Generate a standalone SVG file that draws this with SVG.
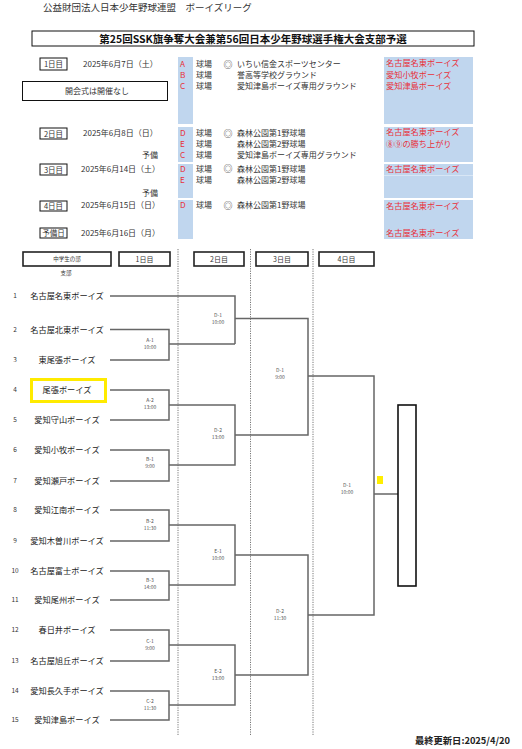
<svg xmlns="http://www.w3.org/2000/svg" width="522" height="749" viewBox="0 0 522 749">
<style>
text{font-family:"Noto Sans CJK JP","Noto Sans",sans-serif;fill:#333}
.t{font-size:8px}
.r{font-size:8.2px;fill:#e8303a}
.tm{font-size:8.2px;text-anchor:middle;fill:#222}
.n{font-size:6.5px;text-anchor:middle;fill:#333}
.lb{font-size:5px;text-anchor:middle;fill:#555}
.bx{fill:none;stroke:#111;stroke-width:1}
.hb{fill:none;stroke:#222;stroke-width:1.6}
.blue{fill:#c0d6ee}
.ln{fill:none;stroke:#666;stroke-width:1.5}
.dot{stroke:#777;stroke-width:1;stroke-dasharray:1.2 1.2}
.ht{font-size:7px;text-anchor:middle;fill:#333}
.mk{font-size:9px;fill:#333}
</style>
<rect width="522" height="749" fill="#fff"/>
<g id="header">
<text x="43" y="11" style="font-size:9.5px">公益財団法人日本少年野球連盟　ボーイズリーグ</text>
<rect x="32" y="31" width="442" height="15" class="bx"/>
<text x="253" y="43" style="font-size:10.5px;font-weight:bold;text-anchor:middle;fill:#111">第25回SSK旗争奪大会兼第56回日本少年野球選手権大会支部予選</text>
</g>
<g id="schedule">
<rect x="178" y="57" width="15" height="67" class="blue"/>
<rect x="178" y="127" width="15" height="35" class="blue"/>
<rect x="178" y="164" width="15" height="34" class="blue"/>
<rect x="178" y="200" width="15" height="39" class="blue"/>
<rect x="384" y="57" width="89" height="67" class="blue"/>
<rect x="384" y="127" width="89" height="35" class="blue"/>
<rect x="384" y="164" width="89" height="34" class="blue"/>
<line x1="384" y1="175.5" x2="473" y2="175.5" stroke="#d8e6f5" stroke-width="1"/>
<rect x="384" y="200" width="89" height="39" class="blue"/>
<g id="day1">
<rect x="40" y="58" width="27" height="12" class="bx"/>
<text x="53.5" y="67" class="ht" style="font-size:7.5px">1日目</text>
<text x="83" y="67" class="t">2025年6月7日（土）</text>
<text x="180" y="67" class="r">A</text><text x="196" y="67" class="t">球場</text><text x="223.5" y="67.5" class="mk">◎</text><text x="237" y="67" class="t">いちい信金スポーツセンター</text>
<text x="180" y="78" class="r">B</text><text x="196" y="78" class="t">球場</text><text x="237" y="78" class="t">誉高等学校グラウンド</text>
<text x="180" y="89" class="r">C</text><text x="196" y="89" class="t">球場</text><text x="237" y="89" class="t">愛知津島ボーイズ専用グラウンド</text>
<text x="386" y="66" class="r">名古屋名東ボーイズ</text>
<text x="386" y="78" class="r">愛知小牧ボーイズ</text>
<text x="386" y="89" class="r">愛知津島ボーイズ</text>
<rect x="22.5" y="81.5" width="145" height="19" class="bx" stroke="#444"/>
<text x="97" y="94" class="t" style="text-anchor:middle">開会式は開催なし</text>
</g>
<g id="day2">
<rect x="40" y="128" width="27" height="11" class="bx"/>
<text x="53.5" y="136.5" class="ht" style="font-size:7.5px">2日目</text>
<text x="83" y="136" class="t">2025年6月8日（日）</text>
<text x="180" y="136" class="r">D</text><text x="196" y="136" class="t">球場</text><text x="223.5" y="136.5" class="mk">◎</text><text x="237" y="136" class="t">森林公園第1野球場</text>
<text x="180" y="147" class="r">E</text><text x="196" y="147" class="t">球場</text><text x="237" y="147" class="t">森林公園第2野球場</text>
<text x="142" y="158" class="t">予備</text>
<text x="180" y="158" class="r">C</text><text x="196" y="158" class="t">球場</text><text x="237" y="158" class="t">愛知津島ボーイズ専用グラウンド</text>
<text x="386" y="135" class="r">名古屋名東ボーイズ</text>
<text x="386" y="147" class="r">⑧⑨の勝ち上がり</text>
</g>
<g id="day3">
<rect x="40" y="164" width="27" height="11" class="bx"/>
<text x="53.5" y="172.5" class="ht" style="font-size:7.5px">3日目</text>
<text x="81" y="172" class="t">2025年6月14日（土）</text>
<text x="180" y="171.5" class="r">D</text><text x="196" y="171.5" class="t">球場</text><text x="223.5" y="172" class="mk">◎</text><text x="237" y="171.5" class="t">森林公園第1野球場</text>
<text x="180" y="182.5" class="r">E</text><text x="196" y="182.5" class="t">球場</text><text x="237" y="182.5" class="t">森林公園第2野球場</text>
<text x="142" y="196" class="t">予備</text>
<text x="386" y="172" class="r">名古屋名東ボーイズ</text>
</g>
<g id="day4">
<rect x="40" y="201" width="27" height="10" class="bx"/>
<text x="53.5" y="208.5" class="ht" style="font-size:7.5px">4日目</text>
<text x="81" y="208" class="t">2025年6月15日（日）</text>
<text x="180" y="208" class="r">D</text><text x="196" y="208" class="t">球場</text><text x="223.5" y="208.5" class="mk">◎</text><text x="237" y="208" class="t">森林公園第1野球場</text>
<text x="386" y="209" class="r">名古屋名東ボーイズ</text>
</g>
<g id="reserve">
<rect x="40" y="228" width="27" height="10" class="bx"/>
<text x="53.5" y="235.5" class="ht" style="font-size:7.5px">予備日</text>
<text x="81" y="236" class="t">2025年6月16日（月）</text>
<text x="386" y="236" class="r">名古屋名東ボーイズ</text>
</g>
</g>
<g id="bracket-headers">
<rect x="23" y="252" width="88" height="14" class="hb"/>
<text x="67" y="261" style="font-size:5.5px;text-anchor:middle">中学生の部</text>
<text x="66" y="275" style="font-size:5.5px;text-anchor:middle">支部</text>
<rect x="119" y="252" width="51" height="14" class="hb"/>
<text x="144.5" y="261.5" class="ht">1日目</text>
<rect x="194" y="252" width="50" height="14" class="hb"/>
<text x="219" y="261.5" class="ht">2日目</text>
<rect x="256" y="252" width="52" height="14" class="hb"/>
<text x="282" y="261.5" class="ht">3日目</text>
<rect x="319" y="252" width="55" height="14" class="hb"/>
<text x="346.5" y="261.5" class="ht">4日目</text>
</g>
<g id="dividers">
<line x1="178" y1="249" x2="178" y2="736" class="dot"/>
<line x1="250.5" y1="249" x2="250.5" y2="736" class="dot"/>
<line x1="313" y1="249" x2="313" y2="736" class="dot"/>
</g>
<g id="teams">
<g id="team1"><text x="15" y="298" class="n">1</text><text x="67" y="299" class="tm">名古屋名東ボーイズ</text></g>
<g id="team2"><text x="15" y="332" class="n">2</text><text x="67" y="333" class="tm">名古屋北東ボーイズ</text></g>
<g id="team3"><text x="15" y="362" class="n">3</text><text x="67" y="363" class="tm">東尾張ボーイズ</text></g>
<g id="team4"><text x="15" y="392" class="n">4</text>
<rect x="31.5" y="379.5" width="74" height="22" fill="none" stroke="#ffeb00" stroke-width="3"/>
<text x="67" y="393" class="tm">尾張ボーイズ</text></g>
<g id="team5"><text x="15" y="422" class="n">5</text><text x="67" y="423" class="tm">愛知守山ボーイズ</text></g>
<g id="team6"><text x="15" y="452" class="n">6</text><text x="67" y="453" class="tm">愛知小牧ボーイズ</text></g>
<g id="team7"><text x="15" y="483" class="n">7</text><text x="67" y="484" class="tm">愛知瀬戸ボーイズ</text></g>
<g id="team8"><text x="15" y="512" class="n">8</text><text x="67" y="513" class="tm">愛知江南ボーイズ</text></g>
<g id="team9"><text x="15" y="543" class="n">9</text><text x="67" y="544" class="tm">愛知木曽川ボーイズ</text></g>
<g id="team10"><text x="15" y="573" class="n">10</text><text x="67" y="574" class="tm">名古屋富士ボーイズ</text></g>
<g id="team11"><text x="15" y="602" class="n">11</text><text x="67" y="603" class="tm">愛知尾州ボーイズ</text></g>
<g id="team12"><text x="15" y="632" class="n">12</text><text x="67" y="633" class="tm">春日井ボーイズ</text></g>
<g id="team13"><text x="15" y="663" class="n">13</text><text x="67" y="664" class="tm">名古屋旭丘ボーイズ</text></g>
<g id="team14"><text x="15" y="693" class="n">14</text><text x="67" y="694" class="tm">愛知長久手ボーイズ</text></g>
<g id="team15"><text x="15" y="722" class="n">15</text><text x="67" y="723" class="tm">愛知津島ボーイズ</text></g>
</g>
<g id="connectors">
<path class="ln" d="M110 296H235V344M110 329.5H169V360H110M169 344H235"/>
<path class="ln" d="M110 390H169V420H110M110 450H169V481H110M169 405H235V465H169"/>
<path class="ln" d="M110 510H169V541H110M110 571H169V600H110M169 525H235V585H169"/>
<path class="ln" d="M110 630H169V661H110M110 691H169V720H110M169 645H235V705H169"/>
<path class="ln" d="M235 318.5H308V435H235"/>
<path class="ln" d="M235 555H308V675H235"/>
<path class="ln" d="M308 376H374V615H308"/>
<path class="ln" d="M374 494H398"/>
</g>
<g id="match-labels">
<text x="150" y="342" class="lb">A-1</text><text x="150" y="349" class="lb">10:00</text>
<text x="150" y="402" class="lb">A-2</text><text x="150" y="409" class="lb">13:00</text>
<text x="150" y="461" class="lb">B-1</text><text x="150" y="468" class="lb">9:00</text>
<text x="150" y="523" class="lb">B-2</text><text x="150" y="530" class="lb">11:30</text>
<text x="150" y="582" class="lb">B-3</text><text x="150" y="589" class="lb">14:00</text>
<text x="150" y="643" class="lb">C-1</text><text x="150" y="650" class="lb">9:00</text>
<text x="150" y="703" class="lb">C-2</text><text x="150" y="710" class="lb">11:30</text>
<text x="218" y="317" class="lb">D-1</text><text x="218" y="324" class="lb">10:00</text>
<text x="218" y="432" class="lb">D-2</text><text x="218" y="439" class="lb">13:00</text>
<text x="218" y="553" class="lb">E-1</text><text x="218" y="560" class="lb">10:00</text>
<text x="218" y="673" class="lb">E-2</text><text x="218" y="680" class="lb">13:00</text>
<text x="280" y="372" class="lb">D-1</text><text x="280" y="379" class="lb">9:00</text>
<text x="280" y="613" class="lb">D-2</text><text x="280" y="620" class="lb">11:30</text>
<text x="347" y="487" class="lb">D-1</text><text x="347" y="494" class="lb">10:00</text>
</g>
<g id="champion">
<rect x="398" y="405" width="18" height="181" fill="#fff" stroke="#111" stroke-width="1.6"/>
<rect x="377" y="476" width="6" height="8" fill="#ffee00"/>
</g>
<text x="510" y="744" style="font-size:9.3px;font-weight:bold;text-anchor:end;fill:#222">最終更新日:2025/4/20</text>
</svg>
